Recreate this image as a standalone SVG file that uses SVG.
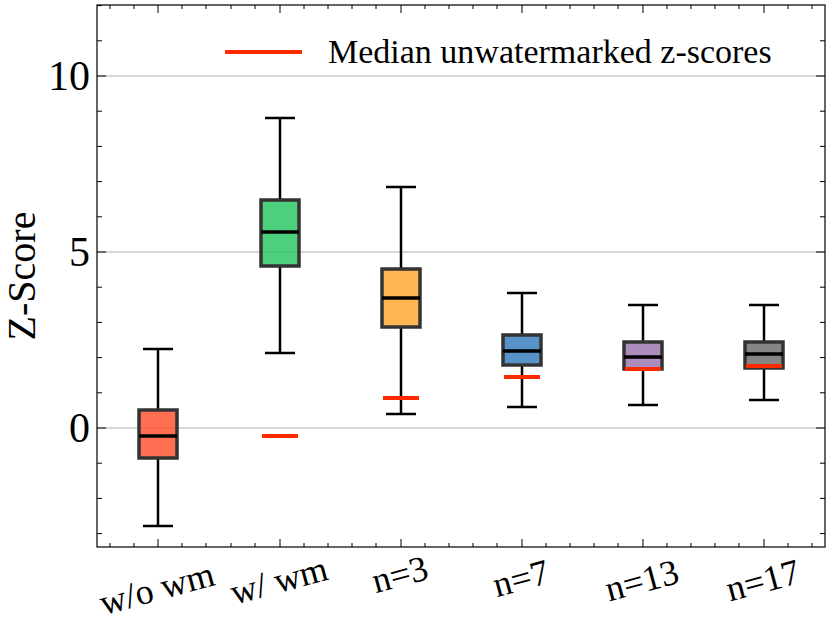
<svg xmlns="http://www.w3.org/2000/svg" width="831" height="631" viewBox="0 0 831 631" font-family="'Liberation Serif', 'Times New Roman', 'DejaVu Serif', serif">
<style>
.grid{stroke:#b0b0b0;stroke-width:1}
.tk{stroke:#000;stroke-width:1}
.box{stroke:#333;stroke-width:3.5;fill-opacity:0.85}
.wh{stroke:#000;stroke-width:2.5;fill:none}
.med{stroke:#000;stroke-width:3.5}
.red{stroke:#ff2a00;stroke-width:4}
</style>
<rect width="831" height="631" fill="#fff"/>
<g id="grid">
<line class="grid" x1="97" y1="428" x2="825" y2="428"/>
<line class="grid" x1="97" y1="252" x2="825" y2="252"/>
<line class="grid" x1="97" y1="76" x2="825" y2="76"/>
</g>
<g id="axes">
<rect x="97" y="5" width="728" height="542" fill="none" stroke="#000" stroke-width="1.2"/>
<path class="tk" d="M97 533.6h5M97 498.4h5M97 463.2h5M97 392.8h5M97 357.6h5M97 322.4h5M97 287.2h5M97 216.8h5M97 181.6h5M97 146.4h5M97 111.2h5M97 40.8h5M97 5.6h5M97 428h9M97 252h9M97 76h9
M825 533.6h-5M825 498.4h-5M825 463.2h-5M825 392.8h-5M825 357.6h-5M825 322.4h-5M825 287.2h-5M825 216.8h-5M825 181.6h-5M825 146.4h-5M825 111.2h-5M825 40.8h-5M825 428h-9M825 252h-9M825 76h-9"/>
<path class="tk" d="M110 547v-4M134 547v-4M182 547v-4M206 547v-4M231 547v-4M255 547v-4M304 547v-4M328 547v-4M352 547v-4M376 547v-4M425 547v-4M449 547v-4M473 547v-4M497 547v-4M546 547v-4M570 547v-4M594 547v-4M618 547v-4M667 547v-4M691 547v-4M715 547v-4M739 547v-4M788 547v-4M812 547v-4
M158 547v-8M280 547v-8M401 547v-8M522 547v-8M643 547v-8M764 547v-8
M110 5v4M134 5v4M182 5v4M206 5v4M231 5v4M255 5v4M304 5v4M328 5v4M352 5v4M376 5v4M425 5v4M449 5v4M473 5v4M497 5v4M546 5v4M570 5v4M594 5v4M618 5v4M667 5v4M691 5v4M715 5v4M739 5v4M788 5v4M812 5v4
M158 5v8M280 5v8M401 5v8M522 5v8M643 5v8M764 5v8"/>
<g font-size="42" text-anchor="end">
<text x="90" y="442">0</text>
<text x="90" y="266">5</text>
<text x="90" y="90">10</text>
</g>
<text transform="translate(35,276) rotate(-90)" font-size="40" text-anchor="middle">Z-Score</text>
<g font-size="36" text-anchor="middle">
<text transform="translate(160,600) rotate(-15)">w/o wm</text>
<text transform="translate(282,592) rotate(-15)">w/ wm</text>
<text transform="translate(403,586) rotate(-15)">n=3</text>
<text transform="translate(524,590) rotate(-15)">n=7</text>
<text transform="translate(645,592) rotate(-15)">n=13</text>
<text transform="translate(766,592) rotate(-15)">n=17</text>
</g>
</g>
<g id="legend">
<line class="red" x1="225" y1="52" x2="302" y2="52"/>
<text x="328" y="63" font-size="34">Median unwatermarked z-scores</text>
</g>
<g id="b1">
<path class="wh" d="M158 349V410M158 458V526M143 349h30M143 526h30"/>
<rect class="box" x="139" y="410" width="38" height="48" fill="#ff5533"/>
<line class="med" x1="139" y1="436" x2="177" y2="436"/>
</g>
<g id="b2">
<path class="wh" d="M280 118V200M280 266V353M265 118h30M265 353h30"/>
<rect class="box" x="261" y="200" width="38" height="66" fill="#2ec866"/>
<line class="med" x1="261" y1="232" x2="299" y2="232"/>
<line class="red" x1="262" y1="436" x2="298" y2="436"/>
</g>
<g id="b3">
<path class="wh" d="M401 187V269M401 327V414M386 187h30M386 414h30"/>
<rect class="box" x="382" y="269" width="38" height="58" fill="#ffa833"/>
<line class="med" x1="382" y1="298" x2="420" y2="298"/>
<line class="red" x1="383" y1="398" x2="419" y2="398"/>
</g>
<g id="b4">
<path class="wh" d="M522 293V335M522 365V407M507 293h30M507 407h30"/>
<rect class="box" x="503" y="335" width="38" height="30" fill="#3a7fc0"/>
<line class="med" x1="503" y1="351" x2="541" y2="351"/>
<line class="red" x1="504" y1="377" x2="540" y2="377"/>
</g>
<g id="b5">
<path class="wh" d="M643 305V342M643 369V405M628 305h30M628 405h30"/>
<rect class="box" x="624" y="342" width="38" height="27" fill="#9d79b0"/>
<line class="red" x1="625" y1="369" x2="661" y2="369"/>
<line class="med" x1="624" y1="357" x2="662" y2="357"/>
</g>
<g id="b6">
<path class="wh" d="M764 305V342M764 368V400M749 305h30M749 400h30"/>
<rect class="box" x="745" y="342" width="38" height="26" fill="#707070"/>
<line class="red" x1="746" y1="366" x2="782" y2="366"/>
<line class="med" x1="745" y1="354" x2="783" y2="354"/>
</g>
</svg>
